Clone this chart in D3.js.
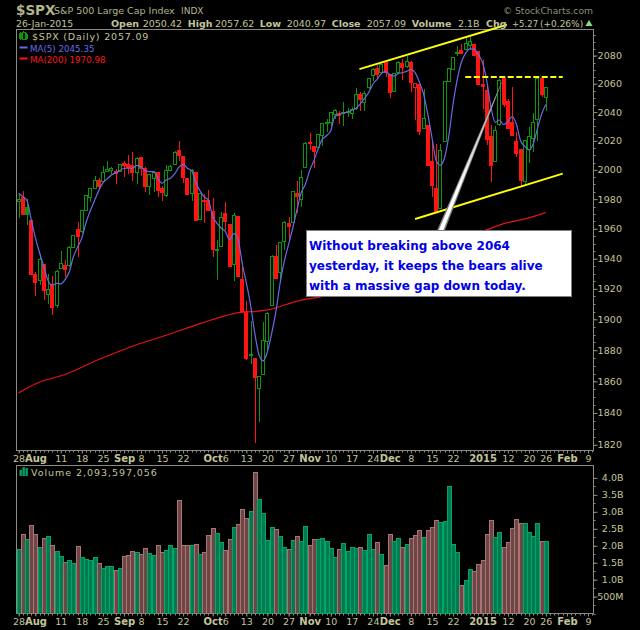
<!DOCTYPE html>
<html><head><meta charset="utf-8">
<script src="https://cdn.jsdelivr.net/npm/d3@7"></script>
<style>
html,body{margin:0;padding:0;background:#000;overflow:hidden}
svg{display:block}
text{font-family:"DejaVu Sans",Verdana,sans-serif}
</style></head><body><svg id="c" width="640" height="630"></svg>
<script>
const opens=[1978.5,1980.8,1974,1965.8,1929.5,1925.4,1936.3,1916.3,1922.7,1909,1933.2,1935.7,1935.4,1947.5,1959.6,1958.2,1972.6,1981.3,1987.4,1992.9,1992,1998.8,1999.5,1998.8,1998.8,2004.7,2003.8,2002.9,1998.4,2008.2,2001.1,1988.8,1993.8,1997.9,1987,1982.4,1999.7,2003.4,2013.6,2009.3,1993.8,1983.5,1997.9,1966.4,1979.4,1978.8,1971.9,1945.9,1948.2,1970.1,1962.7,1935.8,1968,1926,1905.4,1877,1874.5,1855.8,1864.5,1885.8,1909.2,1941.4,1930.9,1951.6,1963.3,1964.4,1983.9,1979.6,2001.7,2018.9,2016.1,2015.7,2023.6,2031.7,2032.9,2038.5,2038.7,2039.7,2039.8,2038.7,2042.7,2052.2,2046.4,2057.5,2065.7,2070.6,2067.8,2075,2066.6,2054.3,2067.8,2074,2072.4,2075,2057.1,2059.4,2028.7,2031,2005.9,1987.1,1973.4,2019.4,2061.5,2069.9,2082,2083.4,2084.5,2086.8,2088.2,2082.7,2059.6,2055.5,2022.7,2005.5,2031.5,2063.8,2047.1,2032.4,2019.2,2014.3,1992,2014.3,2021.3,2034.8,2063.6,2050.42];
const highs=[1983.5,1985.6,1980.1,1965.8,1931.3,1943.2,1936.3,1930,1928.8,1932.2,1945.2,1939.1,1948.7,1955.3,1964.4,1972.6,1982.9,1987.4,1995.9,1994.5,2002.5,2006.1,2002,2000.6,2003.8,2006.1,2010.2,2012,2008.6,2008.2,2001.8,1996.5,1999.5,1997.9,1989.2,2003.4,2003.1,2013.2,2019.8,2009.3,1993.8,2000.6,1997.9,1983.5,1983.5,1986.3,1980.8,1952.7,1971.5,1978.4,1962.7,1970.6,1968,1937.6,1912,1898.8,1874.5,1863,1898.1,1904.7,1942.7,1949.4,1951.1,1965.3,1967.8,1984.9,1992.2,1999.8,2018.9,2025.3,2016.1,2024.1,2031.7,2035.2,2039.9,2042.2,2041,2046.9,2042.9,2043.4,2056.6,2053.8,2055,2063.6,2071.3,2072.9,2074.8,2075.7,2066.6,2067.3,2076.1,2077.5,2079.4,2075.9,2060.8,2059.4,2056.2,2031,2019,2017.8,2017.6,2061.5,2070.6,2078.9,2086.8,2088.2,2092.2,2093.4,2088.2,2082.7,2077,2058.5,2031,2030.6,2063.1,2063.8,2049.2,2057.3,2025.9,2014.3,2019.9,2029.4,2039.2,2063.6,2063.6,2057.62];
const lows=[1967.1,1969.9,1962.3,1929.5,1915.1,1922.7,1912.4,1910.1,1903,1907.6,1933.2,1927.5,1934.5,1947.3,1941.4,1956.9,1972.6,1978.1,1987,1987,1992,1998.4,1997.2,1990.4,1998.4,1995.2,1997.2,1992.4,1990.4,1996.1,1984.7,1982.9,1984.7,1981.5,1978.8,1981.5,1999.7,2003.4,2006.1,1991.1,1982.9,1978.8,1965.8,1966.4,1963.7,1972.6,1941.1,1925.6,1948.2,1959.3,1934.9,1925,1928,1905.4,1873.9,1871.3,1821,1834.5,1864.5,1880.3,1909.2,1927,1923.8,1946,1951.6,1964.4,1970.6,1974.7,2001.7,2013.8,2001.4,2014.3,2016.6,2025.9,2030.6,2035.2,2031.7,2030.6,2036.4,2035.2,2041.7,2040.8,2041,2056.2,2062,2064.3,2067.1,2065,2049.9,2054.3,2066.6,2062.4,2071.3,2054.3,2034.8,2024,2028.7,2002.7,1981.7,1971.8,1973.4,2019.4,2061.5,2069.9,2079.4,2081.5,2084,2084,2079.9,2059.2,2042.2,2017.1,1992,2005.5,2030.6,2043.8,2028.3,2023.6,2008.5,1988.7,1989.6,2005,2012,2020.1,2050.6,2040.97];
const closes=[1979.7,1969.9,1969.9,1929.5,1924,1939.1,1919.2,1919.7,1907.6,1931.6,1936.8,1932.9,1947.3,1955.3,1954.8,1972.6,1982.2,1987.4,1992.9,1988.3,1998.4,2000.4,2000.6,1997.2,2003.8,2002.9,2001.6,1998.4,2007.9,2001.1,1988.3,1996.5,1997.9,1985.6,1984.5,1999.7,2002.5,2012,2010.2,1994.5,1982.9,1999.3,1965.8,1983.5,1978.1,1972.6,1945.9,1946.2,1967.8,1964.9,1934.9,1969.2,1928,1905.4,1874.5,1877.5,1862.6,1863,1886.4,1903.8,1941.1,1927,1951.1,1964.4,1961.6,1984.9,1982.1,1994.5,2018.2,2018,2012.5,2024.1,2031.7,2032.9,2039.4,2041,2037.6,2039.9,2040.2,2041.5,2052.4,2048.5,2053.1,2063.6,2069.9,2066.6,2073.4,2068.2,2053.6,2067.3,2074.8,2071.7,2075.7,2060.6,2060.1,2026.4,2035.7,2002.7,1989.2,1971.8,2013.4,2061.5,2070.6,2078.9,2082.4,2081.5,2088.7,2090.1,2079.9,2059.2,2058.2,2020.6,2002.7,2026.9,2062.2,2045.2,2028.5,2023.6,2011.3,1992.7,2019.9,2023.1,2032.9,2063.6,2052.2,2057.09];
const dayDirection="GRGRRGRGRGGRGGRGGGGRGGGRGRRRGRRGGRRGGGRRRGRGRRRGGRRGRRRGRGGGGRGGRGRGGRRGGGGGRGGGGRGGGRGRRGGRGRRRGRRRGGGGGRGGRRRRRGGRRRRRGGGGRG".split("");
const volumes=[1.88,2.32,2.18,2.59,2.32,1.94,2.21,2.26,2.0,1.82,1.68,1.5,1.56,1.47,1.97,1.65,1.59,1.56,1.65,1.47,1.32,1.38,1.38,1.26,1.32,1.68,1.71,1.82,1.79,1.74,1.91,1.76,1.71,2.0,1.79,1.85,2.0,1.91,3.32,2.0,2.0,2.0,2.03,1.74,1.79,2.29,2.5,2.35,2.09,1.85,2.18,2.53,2.62,3.06,2.79,3.0,4.15,3.35,2.94,2.15,2.53,2.47,2.26,1.94,1.88,2.15,2.26,2.12,2.56,2.0,2.18,2.18,2.21,2.12,1.91,1.65,1.88,2.06,1.82,1.94,1.91,1.94,1.85,2.32,1.88,2.09,1.74,1.41,2.32,2.12,2.21,1.94,2.03,2.21,2.29,2.44,2.24,2.44,2.53,2.74,2.68,2.71,3.74,2.03,1.79,0.82,0.97,1.29,1.24,1.44,1.56,2.32,2.74,2.24,2.38,1.94,2.09,2.5,2.77,2.65,2.65,2.38,2.26,2.65,2.12,2.12];
const ma5=[1984,1981.7,1979,1966,1953.9,1943.6,1934.5,1925.4,1922.4,1923.6,1923.3,1926.1,1931.1,1941.4,1947.7,1953.9,1964.2,1972.1,1979,1985.8,1991.1,1993.8,1996.5,1997.9,1999.5,2001.1,2001.1,2001.1,2003.1,2002,1999.5,1998.8,1998.8,1994.3,1990.8,1993.1,1994.3,1997.2,2001.8,2003.8,2001.1,1999.5,1991.5,1985.6,1981.5,1979.4,1968.3,1963.8,1960.5,1958.2,1952.7,1956.7,1953.1,1937.1,1923.8,1909.4,1890.9,1877.1,1873.2,1879.2,1890.9,1905,1923.8,1938.3,1949.4,1960.5,1972.9,1984.4,1990.2,1999.4,2006.3,2014.3,2021.2,2023.5,2027,2037.1,2038.2,2039.4,2039.9,2041.3,2042.7,2045.7,2049.6,2053.8,2059.6,2063.1,2067.1,2068.5,2066.4,2065.4,2067.1,2067.8,2068.7,2070.1,2067.8,2061.3,2052.7,2038.7,2022.4,2006.2,2003.1,2008.5,2023.6,2045.7,2063.1,2075.4,2081.7,2084.7,2084.5,2080.6,2074.8,2062,2043.4,2032.9,2034.5,2031.3,2033.4,2036.9,2031.7,2020.1,2016.2,2013.8,2017.8,2028.3,2038.7,2045.35];
const ma200Days=[0,5,11,19,27,35,43,51,59,67,71,111,115,121,124,125];
const ma200Values=[1852.7,1859.6,1864.4,1874,1882.6,1889.7,1897.2,1903.8,1906.2,1912.6,1914.4,1959.3,1963.4,1967.3,1970,1970.98];

const priceTicks=[2080,2060,2040,2020,2000,1980,1960,1940,1920,1900,1880,1860,1840,1820];
const volumeTicks=[0.5,1,1.5,2,2.5,3,3.5,4];
const dateTickDays=[0,4,10,15,20,25,29,34,39,46,49,54,59,64,69,74,79,84,88,93,98,103,110,116,121,125,130,135];
const dateTickLabels=["28","Aug","11","18","25","Sep","8","15","22","Oct","6","13","20","27","Nov","10","17","24","Dec","8","15","22","2015","12","20","26","Feb","9"];
const boldDateLabels=["Aug","Sep","Oct","Nov","Dec","2015","Feb"];

const upperChannel=[[80.8,2070.3],[115.75,2102]];
const lowerChannel=[[94,1966.6],[129,1997.4]];
const resistance=[[105.9,2064.7],[129,2064.7]];
const noteTip=[115.1,2065];
const noteBase=[[98.9,1957],[100.8,1957]];
const noteCore=[[99.3,1957],[100.4,1957]];
const noteLines=["Without breaking above 2064","yesterday, it keeps the bears alive","with a massive gap down today."];

const TAN="#c4c49a", GRID="#8a8a80", UP="#0c960c", DOWN="#ff1414", BLUE="#6a6ae6", MAR="#e01414";
const L=16.5,R=593.5,PT=29.5,PB=450.5,VT=465.5,VB=613.5;
const svg=d3.select("#c");
const x=d3.scaleLinear().domain([-0.5,136.3]).range([L,R]);
const y=d3.scaleLog().domain([1820,2080]).range([444.8,55.5]);
const vy=d3.scaleLinear().domain([0,4]).range([VB,477.9]);
const px=i=>Math.round(x(i))+0.5;

// panels
[[PT,PB],[VT,VB]].forEach(([a,b])=>svg.append("rect").attr("x",L).attr("y",a).attr("width",R-L).attr("height",b-a)
  .attr("fill","#000").attr("stroke",GRID).attr("stroke-width",1).attr("shape-rendering","crispEdges"));

// volume
const days=d3.range(closes.length);
const vg=svg.append("g").attr("shape-rendering","crispEdges");
vg.selectAll("rect").data(days).join("rect")
  .attr("x",i=>px(i)-2).attr("width",4)
  .attr("y",i=>vy(volumes[i])).attr("height",i=>VB-vy(volumes[i]))
  .attr("fill",i=>dayDirection[i]==="G"?"#007a50":"#6e4646")
  .attr("stroke",i=>dayDirection[i]==="G"?"#00a868":"#a87474").attr("stroke-width",1);

// candles
const cg=svg.append("g").attr("shape-rendering","crispEdges");
const col=i=>dayDirection[i]==="G"?UP:DOWN;
cg.selectAll("line").data(days).join("line")
  .attr("x1",px).attr("x2",px).attr("y1",i=>y(highs[i])).attr("y2",i=>y(lows[i])).attr("stroke",col);
cg.selectAll("rect").data(days).join("rect")
  .attr("x",i=>px(i)-2).attr("width",3)
  .attr("y",i=>y(Math.max(opens[i],closes[i])))
  .attr("height",i=>Math.max(1,Math.abs(y(opens[i])-y(closes[i]))))
  .attr("fill",i=>closes[i]>opens[i]?"#000":col(i))
  .attr("stroke",col).attr("stroke-width",1);

// moving averages
const line=d3.line().curve(d3.curveMonotoneX);
svg.append("path").attr("d",line(ma200Days.map((d,k)=>[x(d),y(ma200Values[k])]))).attr("fill","none").attr("stroke",MAR).attr("stroke-width",1.2);
svg.append("path").attr("d",line(days.map(i=>[x(i),y(ma5[i])]))).attr("fill","none").attr("stroke",BLUE).attr("stroke-width",1.2);

// right axes
const yAxis=d3.axisRight(y).tickValues(priceTicks).tickFormat(d3.format("d")).tickSize(4).tickPadding(0);
const yg=svg.append("g").attr("transform",`translate(${R},0)`).call(yAxis);
yg.select(".domain").remove();
yg.selectAll("line").attr("stroke",GRID);
yg.selectAll("text").attr("fill",TAN).attr("font-size",9.5).attr("x",4).attr("text-anchor","start").attr("letter-spacing",0.1);
svg.append("g").selectAll("line").data(d3.range(1820,2100,5)).join("line")
  .attr("x1",R).attr("x2",R+2).attr("y1",d=>Math.round(y(d))+.5).attr("y2",d=>Math.round(y(d))+.5).attr("stroke",GRID);

const vAxis=d3.axisRight(vy).tickValues(volumeTicks).tickFormat(d=>d<1?"500M":d3.format(".1f")(d)+"B").tickSize(4).tickPadding(0);
const vg2=svg.append("g").attr("transform",`translate(${R},0)`).call(vAxis);
vg2.select(".domain").remove();
vg2.selectAll("line").attr("stroke",GRID);
vg2.selectAll("text").attr("fill",TAN).attr("font-size",9.5).attr("x",30).attr("text-anchor","end");
svg.append("g").selectAll("line").data(d3.range(0,4.2,0.25)).join("line")
  .attr("x1",R).attr("x2",R+2).attr("y1",d=>Math.round(vy(d))+.5).attr("y2",d=>Math.round(vy(d))+.5).attr("stroke",GRID);

// date axes
[[PB,462],[VB,625]].forEach(([base,ty])=>{
  const ax=d3.axisBottom(x).tickValues(dateTickDays).tickFormat((d,k)=>dateTickLabels[k]).tickSize(3).tickPadding(0);
  const g=svg.append("g").attr("transform",`translate(0,${base})`).call(ax);
  g.select(".domain").remove();
  g.selectAll("line").attr("stroke",GRID);
  g.selectAll("text").attr("fill",TAN).attr("y",ty-base).attr("dy",0)
    .attr("font-weight",function(){return boldDateLabels.includes(d3.select(this).text())?"bold":"normal";})
    .attr("font-size",function(){return boldDateLabels.includes(d3.select(this).text())?10:9.5;});
  svg.append("g").selectAll("line").data(d3.range(0,137)).join("line")
    .attr("x1",px).attr("x2",px).attr("y1",base).attr("y2",base+2).attr("stroke",GRID);
});

// annotations
const seg=(pts,col,w,dash)=>svg.append("line").attr("x1",x(pts[0][0])).attr("y1",y(pts[0][1])).attr("x2",x(pts[1][0])).attr("y2",y(pts[1][1]))
  .attr("stroke",col).attr("stroke-width",w).attr("stroke-dasharray",dash||null);
seg(upperChannel,"#ffff00",2);
seg(lowerChannel,"#ffff00",2);
seg(resistance,"#ffff00",2,"6,2.5");

const defs=svg.append("defs");
const gr=defs.append("linearGradient").attr("id","wedge").attr("gradientUnits","userSpaceOnUse")
  .attr("x1",x(noteTip[0])).attr("y1",y(noteTip[1])).attr("x2",x(noteBase[0][0])).attr("y2",y(noteBase[0][1]));
gr.append("stop").attr("offset",0).attr("stop-color","#808080");
gr.append("stop").attr("offset",0.35).attr("stop-color","#c8c8c8");
gr.append("stop").attr("offset",0.7).attr("stop-color","#ffffff");
const wedge=pts=>"M"+[noteTip,...pts].map(p=>[x(p[0]),y(p[1])].join(",")).join("L")+"Z";
svg.append("path").attr("d",wedge(noteBase)).attr("fill","#808080");
svg.append("path").attr("d",wedge(noteCore)).attr("fill","url(#wedge)");

const box=svg.append("g");
box.append("rect").attr("x",306.5).attr("y",230.5).attr("width",265).attr("height",66).attr("fill","#fff").attr("stroke","#808080").attr("stroke-width",1);
box.selectAll("text").data(noteLines).join("text").attr("x",309).attr("y",(d,k)=>250+k*20)
  .attr("fill","#0000e6").attr("font-size",12).attr("font-weight","bold").text(d=>d);

// header
const t=(s,xp,yp,size,weight,fill,anchor)=>svg.append("text").attr("x",xp).attr("y",yp).attr("font-size",size).attr("font-weight",weight||"normal").attr("fill",fill||TAN).attr("text-anchor",anchor||"start").text(s);
const HB="#b4b48c";
t("$SPX",16,15,13.5,"bold",HB).attr("font-family","Liberation Sans");
t("S&P 500 Large Cap Index",54,14,9.5,"normal",HB);
t("INDX",181,14,9,"normal",HB);
t("© StockCharts.com",593,14,9.2,"normal","#8c8c78","end");
t("26-Jan-2015",16,27,9.3,"normal",TAN);
[["Open",111,"2050.42",142.7],["High",187.7,"2057.62",215],["Low",259.7,"2040.97",286.7],["Close",331.7,"2057.09",366.7],["Volume",411.7,"2.1B",458]].forEach(([a,ax,b,bx])=>{
  t(a,ax,27,9.5,"bold",TAN);
  t(b,bx,27,9.5,"normal",TAN);
});
t("Chg",486,27,9.5,"bold",TAN);
t("+5.27",512,27,8.5,"normal",TAN);
t("(+0.26%)",540,27,9,"normal",TAN);
svg.append("path").attr("d",d3.symbol(d3.symbolTriangle,22)()).attr("transform","translate(589,24)").attr("fill","#7fe08a");

// legend
t("$SPX (Daily) 2057.09",32,40,9.5,"normal",TAN).attr("letter-spacing",0.8);
t("MA(5) 2045.35",30,51.5,8.7,"normal",BLUE);
t("MA(200) 1970.98",30,62.5,8.7,"normal","#ff1414");
svg.append("line").attr("x1",19.5).attr("x2",27.5).attr("y1",47.5).attr("y2",47.5).attr("stroke",BLUE).attr("stroke-width",2);
svg.append("line").attr("x1",19.5).attr("x2",27.5).attr("y1",58.5).attr("y2",58.5).attr("stroke","#ff1414").attr("stroke-width",2);
const icon=svg.append("g").attr("shape-rendering","crispEdges");
[[20,33,6],[23,32,7],[26,34,5]].forEach(([ix,iy,h])=>{
  icon.append("line").attr("x1",ix+.5).attr("x2",ix+.5).attr("y1",iy-1).attr("y2",iy+h+1).attr("stroke",UP);
  icon.append("rect").attr("x",ix-1).attr("y",iy).attr("width",3).attr("height",h).attr("fill",ix===23?"#000":UP).attr("stroke",UP).attr("stroke-width",ix===23?1:0);
});
// volume legend
t("Volume 2,093,597,056",31,476,9.5,"normal",TAN).attr("letter-spacing",0.95);
[[19.5,6],[22.5,9],[25.5,8]].forEach(([ix,h])=>svg.append("rect").attr("x",ix).attr("y",476-h).attr("width",2.4).attr("height",h).attr("fill","#00a268"));
</script></body></html>
